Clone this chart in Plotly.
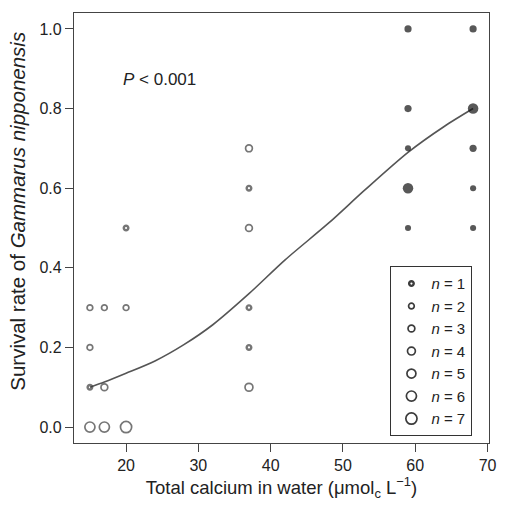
import plotly.graph_objects as go

# Survival observations: calcium level, survival rate, number of replicates (n)
open_x = [15, 15, 15, 15, 17, 17, 17, 20, 20, 20, 37, 37, 37, 37, 37, 37]
open_y = [0.3, 0.2, 0.1, 0.0, 0.3, 0.1, 0.0, 0.5, 0.3, 0.0, 0.7, 0.6, 0.5, 0.3, 0.2, 0.1]
open_n = [2, 2, 1, 6, 2, 3, 6, 1, 2, 7, 3, 1, 3, 1, 1, 4]

solid_x = [59, 59, 59, 59, 59, 68, 68, 68, 68, 68]
solid_y = [1.0, 0.8, 0.7, 0.6, 0.5, 1.0, 0.8, 0.7, 0.6, 0.5]
solid_n = [2, 2, 1, 5, 1, 2, 5, 2, 1, 1]

# Fitted logistic curve
fit_x = [15, 17, 20, 24, 28, 32, 37, 42, 48, 53, 59, 64, 68]
fit_y = [0.10, 0.113, 0.135, 0.166, 0.207, 0.257, 0.335, 0.42, 0.512, 0.595, 0.69, 0.755, 0.80]

legend_n = [1, 2, 3, 4, 5, 6, 7]

x_ticks = [20, 30, 40, 50, 60, 70]
y_ticks = [0.0, 0.2, 0.4, 0.6, 0.8, 1.0]

FONT = "Liberation Sans, Arial, sans-serif"
INK = "#222222"
RING = "#3c3c3c"


def dot_size(n):
    return 3.5 + 1.1 * n


def ring_width(n):
    # single-replicate rings are drawn heavier so they read as dark dots
    return 2.4 if n == 1 else 1.7


fig = go.Figure()

fig.add_trace(go.Scatter(
    x=fit_x, y=fit_y, mode="lines",
    line=dict(color="#555555", width=1.6, shape="spline", smoothing=0.8),
    showlegend=False, hoverinfo="skip",
))

fig.add_trace(go.Scatter(
    x=open_x, y=open_y, mode="markers",
    marker=dict(symbol="circle-open", size=[dot_size(n) for n in open_n],
                color=RING, line=dict(width=[ring_width(n) for n in open_n])),
    showlegend=False,
))

fig.add_trace(go.Scatter(
    x=solid_x, y=solid_y, mode="markers",
    marker=dict(symbol="circle", size=[dot_size(n) + 1.5 for n in solid_n],
                color="#111111", line=dict(width=0)),
    showlegend=False,
))

for n in legend_n:
    fig.add_trace(go.Scatter(
        x=[None], y=[None], mode="markers",
        name=f"<i>n</i> = {n}", legendgroup=f"g{n}",
        marker=dict(symbol="circle-open", size=dot_size(n),
                    color=RING, line=dict(width=ring_width(n))),
    ))

fig.add_annotation(
    x=0.113, y=0.845, xref="paper", yref="paper",
    text="<i>P</i> < 0.001", showarrow=False,
    xanchor="left", yanchor="middle",
    font=dict(family=FONT, size=17, color=INK),
)

# Y-axis title placed as a rotated label left of the tick labels
fig.add_annotation(
    x=-0.135, y=0.54, xref="paper", yref="paper",
    text="Survival rate of <i>Gammarus nipponensis</i>", showarrow=False,
    textangle=-90, xanchor="center", yanchor="middle",
    font=dict(family=FONT, size=20.5, color=INK),
)

axis_common = dict(
    showline=True, linecolor="#444444", linewidth=1.3, mirror=True,
    ticks="outside", ticklen=8, tickcolor="#444444", tickwidth=1.3,
    showgrid=False, zeroline=False,
    tickfont=dict(family=FONT, size=16, color=INK),
)

fig.update_layout(
    width=506, height=506, autosize=False,
    margin=dict(l=74, r=9, t=13, b=63),
    paper_bgcolor="white", plot_bgcolor="white",
    xaxis=dict(
        range=[12.8, 70.2], tickvals=x_ticks,
        title=dict(text="Total calcium in water (μmol<sub>c</sub> L<sup>−1</sup>)",
                   font=dict(family=FONT, size=18.5, color=INK), standoff=4),
        **axis_common,
    ),
    yaxis=dict(
        range=[-0.04, 1.04], tickvals=y_ticks, tickformat=".1f",
        **axis_common,
    ),
    legend=dict(
        x=0.762, y=0.016, xanchor="left", yanchor="bottom",
        bordercolor="#333333", borderwidth=1.2, bgcolor="white",
        font=dict(family=FONT, size=15, color=INK),
        tracegroupgap=0, itemwidth=30,
    ),
)

fig.write_html("out.html")
